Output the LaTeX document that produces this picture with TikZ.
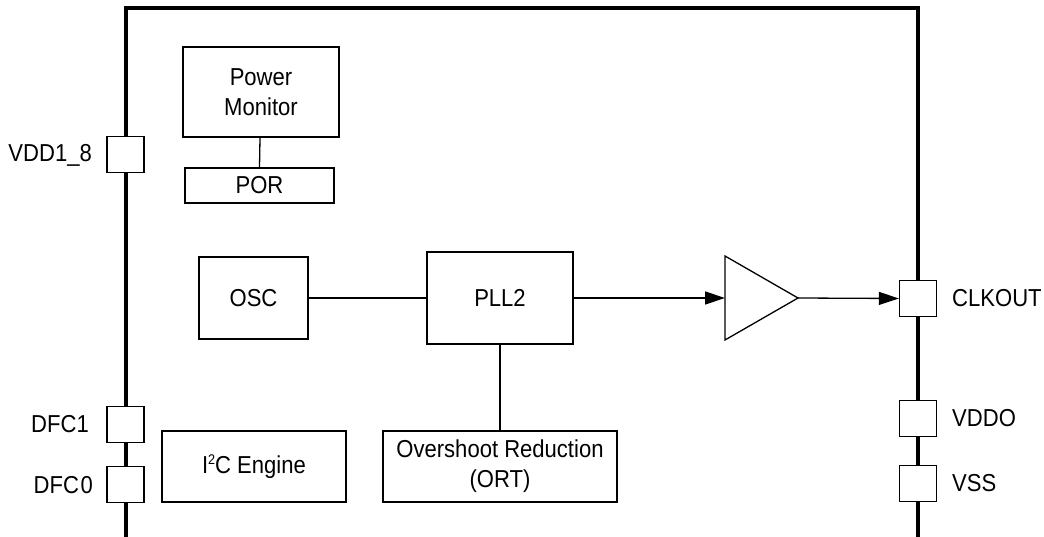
\documentclass[tikz,border=0pt]{standalone}
\usepackage{fontspec}
\setmainfont{Liberation Sans}[FakeStretch=0.9]
\usetikzlibrary{arrows.meta}
\newcommand{\supn}[1]{\raisebox{8.5pt}{\fontsize{14}{14}\selectfont #1}}
\tikzset{
  blk/.style={draw, line width=1.3pt, inner sep=0pt, align=center, font=\fontsize{24.5}{30}\selectfont},
  pin/.style={draw, line width=1.3pt, fill=white, minimum width=37pt, minimum height=36pt, inner sep=0pt},
  plabel/.style={inner sep=0pt, font=\fontsize{24.5}{30}\selectfont},
  frame/.style={line width=3.5pt},
  wire/.style={line width=1.3pt},
  sig/.style={line width=1.3pt, -{Triangle[length=20pt,width=13pt]}}
}
\begin{document}
\begin{tikzpicture}[x=1pt,y=-1pt]
\useasboundingbox (0,0) rectangle (1044,537);
% frame
\draw[frame] (126,537) -- (126,8) -- (918,8) -- (918,537);
% pins
\node[pin] (vdd) at (125.5,154.5) {};
\node[pin] (dfc1) at (125.5,424.5) {};
\node[pin] (dfc0) at (125.5,484.5) {};
\node[pin] (clkout) at (918,298.5) {};
\node[pin] (vddo) at (918,418.5) {};
\node[pin] (vss) at (918,483.5) {};
% pin labels
\node[plabel, anchor=east] (lvdd) at (92,155) {VDD1\_8};
\node[plabel, anchor=east] (ldfc1) at (89,424) {DFC1};
\node[plabel, anchor=east] (ldfc0) at (93,485) {DFC\kern1.5pt0};
\node[plabel, anchor=west] (lclk) at (952,298) {CLKOUT};
\node[plabel, anchor=west] (lvddo) at (952,418) {VDDO};
\node[plabel, anchor=west] (lvss) at (952,483) {VSS};
% blocks
\node[blk, minimum width=156pt, minimum height=90pt] (pm) at (261,92) {Power\\Monitor};
\node[blk, minimum width=149pt, minimum height=35pt] (por) at (259.5,185.5) {POR};
\node[blk, minimum width=109pt, minimum height=82pt] (osc) at (253.5,298) {OSC};
\node[blk, minimum width=146pt, minimum height=92pt] (pll) at (500,298) {PLL2};
\node[blk, minimum width=184pt, minimum height=71pt] (i2c) at (254,466.5) {I\supn{2}C Engine};
\node[blk, minimum width=234pt, minimum height=71pt] (ort) at (500,466.5) {Overshoot Reduction\\(ORT)};
% buffer
\coordinate (bufin) at (725,298);
\coordinate (bufout) at (798,298);
\draw[wire] (725,256) -- (bufout) -- (725,340) -- cycle;
% connectors
\draw[wire] (pm.south -| por.north) ++(0.5,0) -- (por.north);
\draw[wire] (osc.east) -- (pll.west);
\draw[wire] (pll.south) -- (ort.north);
\draw[sig] (pll.east) -- (bufin);
\draw[sig] (bufout) -- (clkout.west);
\end{tikzpicture}
\end{document}
